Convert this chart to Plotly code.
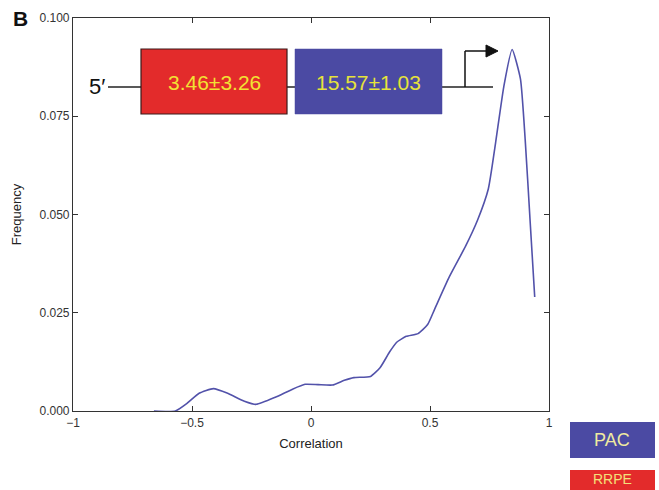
import plotly.graph_objects as go

corr = [-0.66, -0.57, -0.52, -0.47, -0.41, -0.35, -0.28, -0.23, -0.15, -0.08, -0.025, 0.03, 0.09,
        0.14, 0.18, 0.25, 0.29, 0.33, 0.36, 0.40, 0.45, 0.49, 0.52, 0.58, 0.65, 0.70, 0.745,
        0.775, 0.81, 0.845, 0.88, 0.90, 0.92, 0.94]
freq = [0.0, 0.0, 0.002, 0.0045, 0.0057, 0.0045, 0.0025, 0.0017, 0.0035, 0.0055, 0.0068, 0.0067,
        0.0066, 0.0078, 0.0085, 0.0088, 0.011, 0.015, 0.0175, 0.019, 0.0197, 0.022, 0.026, 0.034,
        0.042, 0.0486, 0.0565, 0.068, 0.0825, 0.092, 0.0845, 0.069, 0.049, 0.029]
x_ticks = [-1, -0.5, 0, 0.5, 1]
x_ticklabels = ["\u22121", "\u22120.5", "0", "0.5", "1"]
y_ticks = [0.0, 0.025, 0.05, 0.075, 0.1]
box_labels = ["3.46\u00b13.26", "15.57\u00b11.03"]
legend_labels = ["PAC", "RRPE"]

W, H = 659, 490
L, R, T, B = 73, 549, 18, 411

def px(x):
    return (x - L) / (R - L)

def py(y):
    return (B - y) / (B - T)

RED = "#e32b2b"
BLUE = "#4b4aa3"
YEL = "#f2e233"

fig = go.Figure()
fig.add_trace(go.Scatter(x=corr, y=freq, mode="lines", line_shape="spline",
                         line=dict(color="#5252aa", width=1.6, smoothing=0.5), showlegend=False))

shapes = []
shapes.append(dict(type="line", xref="paper", yref="paper", x0=px(108), x1=px(493), y0=py(87), y1=py(87),
                   line=dict(color="#222", width=1.3)))
shapes.append(dict(type="rect", xref="paper", yref="paper", x0=px(141), x1=px(287), y0=py(114), y1=py(49),
                   fillcolor=RED, line=dict(color="#3a1a1a", width=1.2)))
shapes.append(dict(type="rect", xref="paper", yref="paper", x0=px(295), x1=px(442), y0=py(114), y1=py(49),
                   fillcolor=BLUE, line=dict(color=BLUE, width=0.5)))
shapes.append(dict(type="line", xref="paper", yref="paper", x0=px(465), x1=px(465), y0=py(87), y1=py(51),
                   line=dict(color="#111", width=1.5)))
shapes.append(dict(type="line", xref="paper", yref="paper", x0=px(465), x1=px(488), y0=py(51), y1=py(51),
                   line=dict(color="#111", width=1.5)))
shapes.append(dict(type="path", xref="paper", yref="paper",
                   path=f"M {px(486)} {py(45)} L {px(498)} {py(51)} L {px(486)} {py(57)} Z",
                   fillcolor="#111", line=dict(color="#111", width=1)))
shapes.append(dict(type="rect", xref="paper", yref="paper", x0=px(570), x1=px(655), y0=py(458), y1=py(422),
                   fillcolor=BLUE, line=dict(width=0)))
shapes.append(dict(type="rect", xref="paper", yref="paper", x0=px(570), x1=px(655), y0=py(505), y1=py(470),
                   fillcolor=RED, line=dict(width=0)))

annotations = [
    dict(text="<b>B</b>", x=px(20), y=py(18), xref="paper", yref="paper", showarrow=False,
         font=dict(size=21, color="#111", family="Arial"), xanchor="center", yanchor="middle"),
    dict(text="5\u2032", x=px(107), y=py(87), xref="paper", yref="paper", showarrow=False,
         font=dict(size=22, color="#111", family="Arial"), xanchor="right", yanchor="middle"),
    dict(text=box_labels[0], x=px(214), y=py(83), xref="paper", yref="paper", showarrow=False,
         font=dict(size=21, color=YEL, family="Arial"), xanchor="center", yanchor="middle"),
    dict(text=box_labels[1], x=px(368), y=py(83), xref="paper", yref="paper", showarrow=False,
         font=dict(size=21, color="#e6e33a", family="Arial"), xanchor="center", yanchor="middle"),
    dict(text=legend_labels[0], x=px(612), y=py(440), xref="paper", yref="paper", showarrow=False,
         font=dict(size=18, color="#efe9a0", family="Arial"), xanchor="center", yanchor="middle"),
    dict(text=legend_labels[1], x=px(612), y=py(479), xref="paper", yref="paper", showarrow=False,
         font=dict(size=14, color="#f4e07a", family="Arial"), xanchor="center", yanchor="middle"),
]

axis_common = dict(showgrid=False, zeroline=False, showline=True, linecolor="#333", linewidth=1.2,
                   mirror="ticks", ticks="inside", ticklen=5, tickcolor="#333",
                   tickfont=dict(size=12, color="#333", family="Arial"))

fig.update_layout(
    width=W, height=H,
    margin=dict(l=L, r=W - R, t=T, b=H - B, pad=0),
    paper_bgcolor="white", plot_bgcolor="white",
    xaxis=dict(range=[-1, 1], tickvals=x_ticks, ticktext=x_ticklabels,
               title=dict(text="Correlation", font=dict(size=13, color="#222", family="Arial"), standoff=10),
               **axis_common),
    yaxis=dict(range=[0, 0.1], tickvals=y_ticks, tickformat=".3f",
               title=dict(text="Frequency", font=dict(size=13, color="#222", family="Arial"), standoff=14),
               **axis_common),
    shapes=shapes, annotations=annotations,
)

fig.write_html("out.html")
